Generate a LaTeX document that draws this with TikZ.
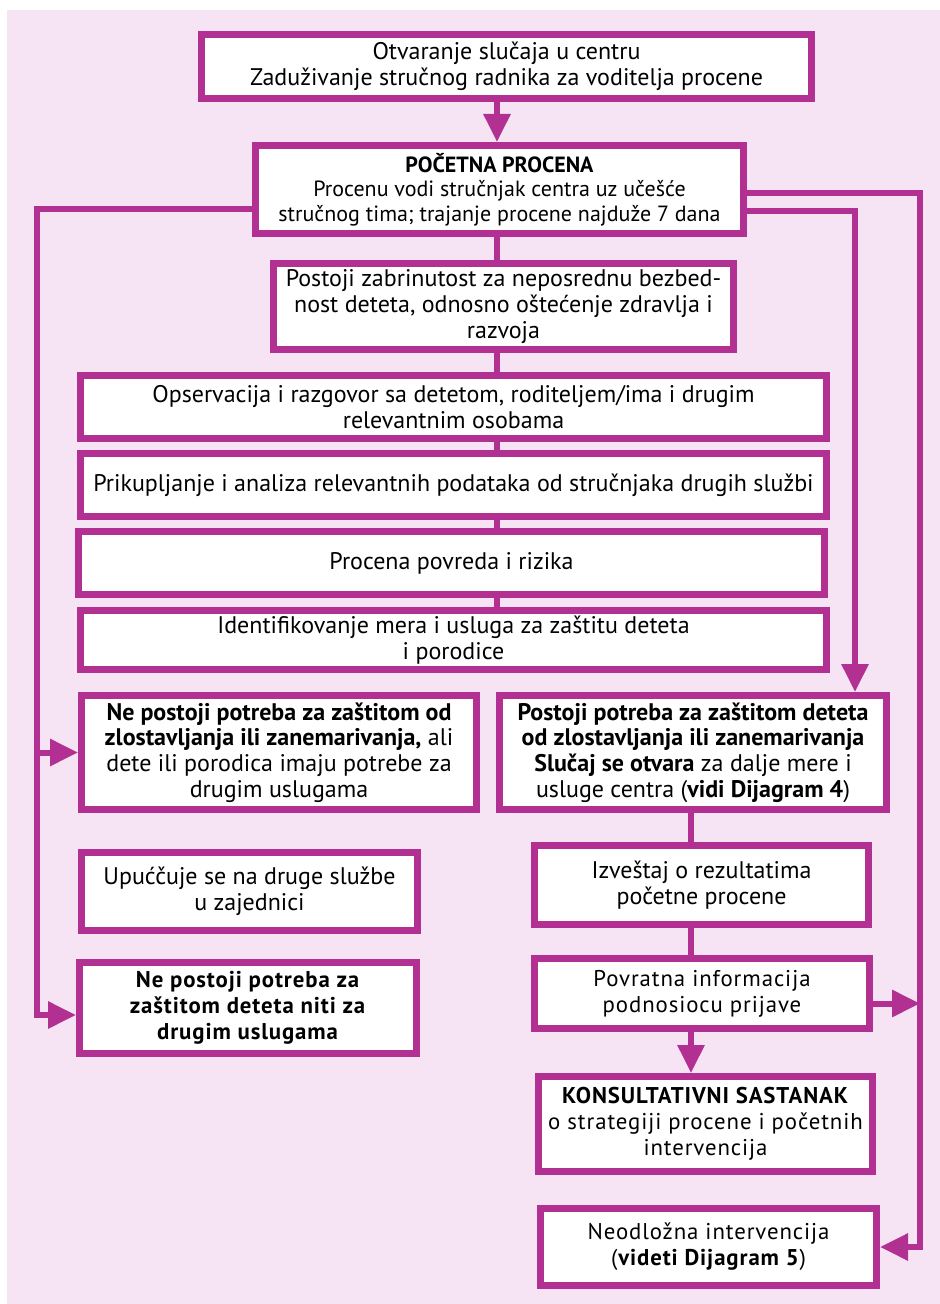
\documentclass[tikz,border=0pt]{standalone}
\usepackage{fontspec}
\setmainfont{PT Sans}
\newfontfamily\widefont[LetterSpace=4]{PT Sans}
\usepackage{tikz}
\usetikzlibrary{arrows.meta}

\definecolor{mag}{RGB}{178,48,146}
\definecolor{bgpink}{RGB}{246,228,244}

\tikzset{
  box/.style={draw=mag, line width=3.5pt, fill=white, align=center, inner sep=0pt,
    font=\fontsize{12}{12.8}\selectfont},
  widebox/.style={box, font=\widefont\fontsize{11.4}{13}\selectfont},
  conn/.style={draw=mag, line width=3pt},
  tip/.style={conn, -{Triangle[length=14pt,width=13pt]}}
}

\begin{document}
\begin{tikzpicture}[x=0.5pt,y=-0.5pt]

\fill[white] (0,0) rectangle (940,1304);
\fill[bgpink] (7,10) rectangle (940,1304);

\coordinate (cx) at (497,0);
\coordinate (lx) at (37,0);
\coordinate (rx) at (920,0);
\coordinate (ix) at (855,0);
\coordinate (mx) at (691,0);

\node[box,minimum width=305pt,minimum height=32pt] (open) at (506.5,66.5)
  {Otvaranje slučaja u centru\\Zaduživanje stručnog radnika za voditelja procene};
\node[box,minimum width=244pt,minimum height=44pt,font=\fontsize{11}{12.2}\selectfont] (start) at (499.5,189.5)
  {\textbf{POČETNA PROCENA}\\Procenu vodi stručnjak centra uz učešće\\stručnog tima; trajanje procene najduže 7 dana};
\node[box,minimum width=230pt,minimum height=43pt] (safety) at (503.5,306.5)
  {Postoji zabrinutost za neposrednu bezbed-\\nost deteta, odnosno oštećenje zdravlja i\\razvoja};
\node[box,minimum width=373pt,minimum height=31.5pt] (talk) at (453.5,407)
  {Opservacija i razgovor sa detetom, roditeljem/ima i drugim\\relevantnim osobama};
\node[box,minimum width=373pt,minimum height=31.5pt] (data) at (453.5,485)
  {Prikupljanje i analiza relevantnih podataka od  stručnjaka drugih službi};
\node[box,minimum width=373pt,minimum height=31.5pt] (risk) at (451.5,563)
  {Procena povreda i rizika};
\node[box,minimum width=373pt,minimum height=29.5pt] (measures) at (453.5,640)
  {Identifikovanje mera i usluga za zaštitu deteta\\i porodice};

\node[box,minimum width=197.5pt,minimum height=57pt] (noneed) at (279,752.5)
  {\textbf{Ne postoji potreba za zaštitom od}\\\textbf{zlostavljanja ili zanemarivanja,} ali\\dete ili porodica imaju potrebe za\\drugim uslugama};
\node[box,minimum width=193.5pt,minimum height=57pt] (need) at (693,752.5)
  {\textbf{Postoji potreba za zaštitom deteta}\\\textbf{od zlostavljanja ili zanemarivanja}\\\textbf{Slučaj se otvara} za dalje mere i\\usluge centra (\textbf{vidi Dijagram 4})};
\node[box,minimum width=167pt,minimum height=39.5pt] (report) at (701.5,885)
  {Izveštaj o rezultatima\\početne procene};
\node[box,minimum width=168pt,minimum height=39pt] (refer) at (249.5,891.5)
  {Upućčuje se na druge službe\\u zajednici};
\node[widebox,minimum width=167.5pt,minimum height=35pt] (feedback) at (702,993.5)
  {Povratna informacija\\podnosiocu prijave};
\node[widebox,minimum width=167pt,minimum height=47.5pt] (meeting) at (705.5,1124)
  {\textbf{KONSULTATIVNI SASTANAK}\\o strategiji procene i početnih\\intervencija};
\node[widebox,minimum width=168pt,minimum height=38.5pt] (urgent) at (708.5,1247)
  {Neodložna intervencija\\(\textbf{videti Dijagram 5})};
\node[widebox,minimum width=168.5pt,minimum height=45.5pt] (noservice) at (248,1008)
  {\textbf{Ne postoji potreba za}\\\textbf{zaštitom deteta niti za}\\\textbf{drugim uslugama}};

\draw[tip] (open.south -| cx) -- (start.north -| cx);
\foreach \a/\b in {start/safety, safety/talk, talk/data, data/risk, risk/measures}
  \draw[conn] (\a.south -| cx) -- (\b.north -| cx);

\coordinate (ns) at ([yshift=-3.5pt]noservice.west);
\draw[tip] ([yshift=-10pt]start.west) -| (lx |- ns) -- (ns);
\draw[tip] (lx |- noneed.west) -- (noneed.west);
\draw[tip] ([yshift=-2pt]start.east) -| (rx |- urgent.east) -- (urgent.east);
\draw[tip] ([yshift=-11pt]start.east) -| (ix |- need.north);

\draw[conn] (need.south -| mx) -- (report.north -| mx);
\draw[conn] (report.south -| mx) -- (feedback.north -| mx);
\draw[tip] (feedback.south -| mx) -- (meeting.north -| mx);
\coordinate (fb) at ([yshift=-5pt]feedback.east);
\draw[tip] (fb) -- (rx |- fb);
\end{tikzpicture}
\end{document}
